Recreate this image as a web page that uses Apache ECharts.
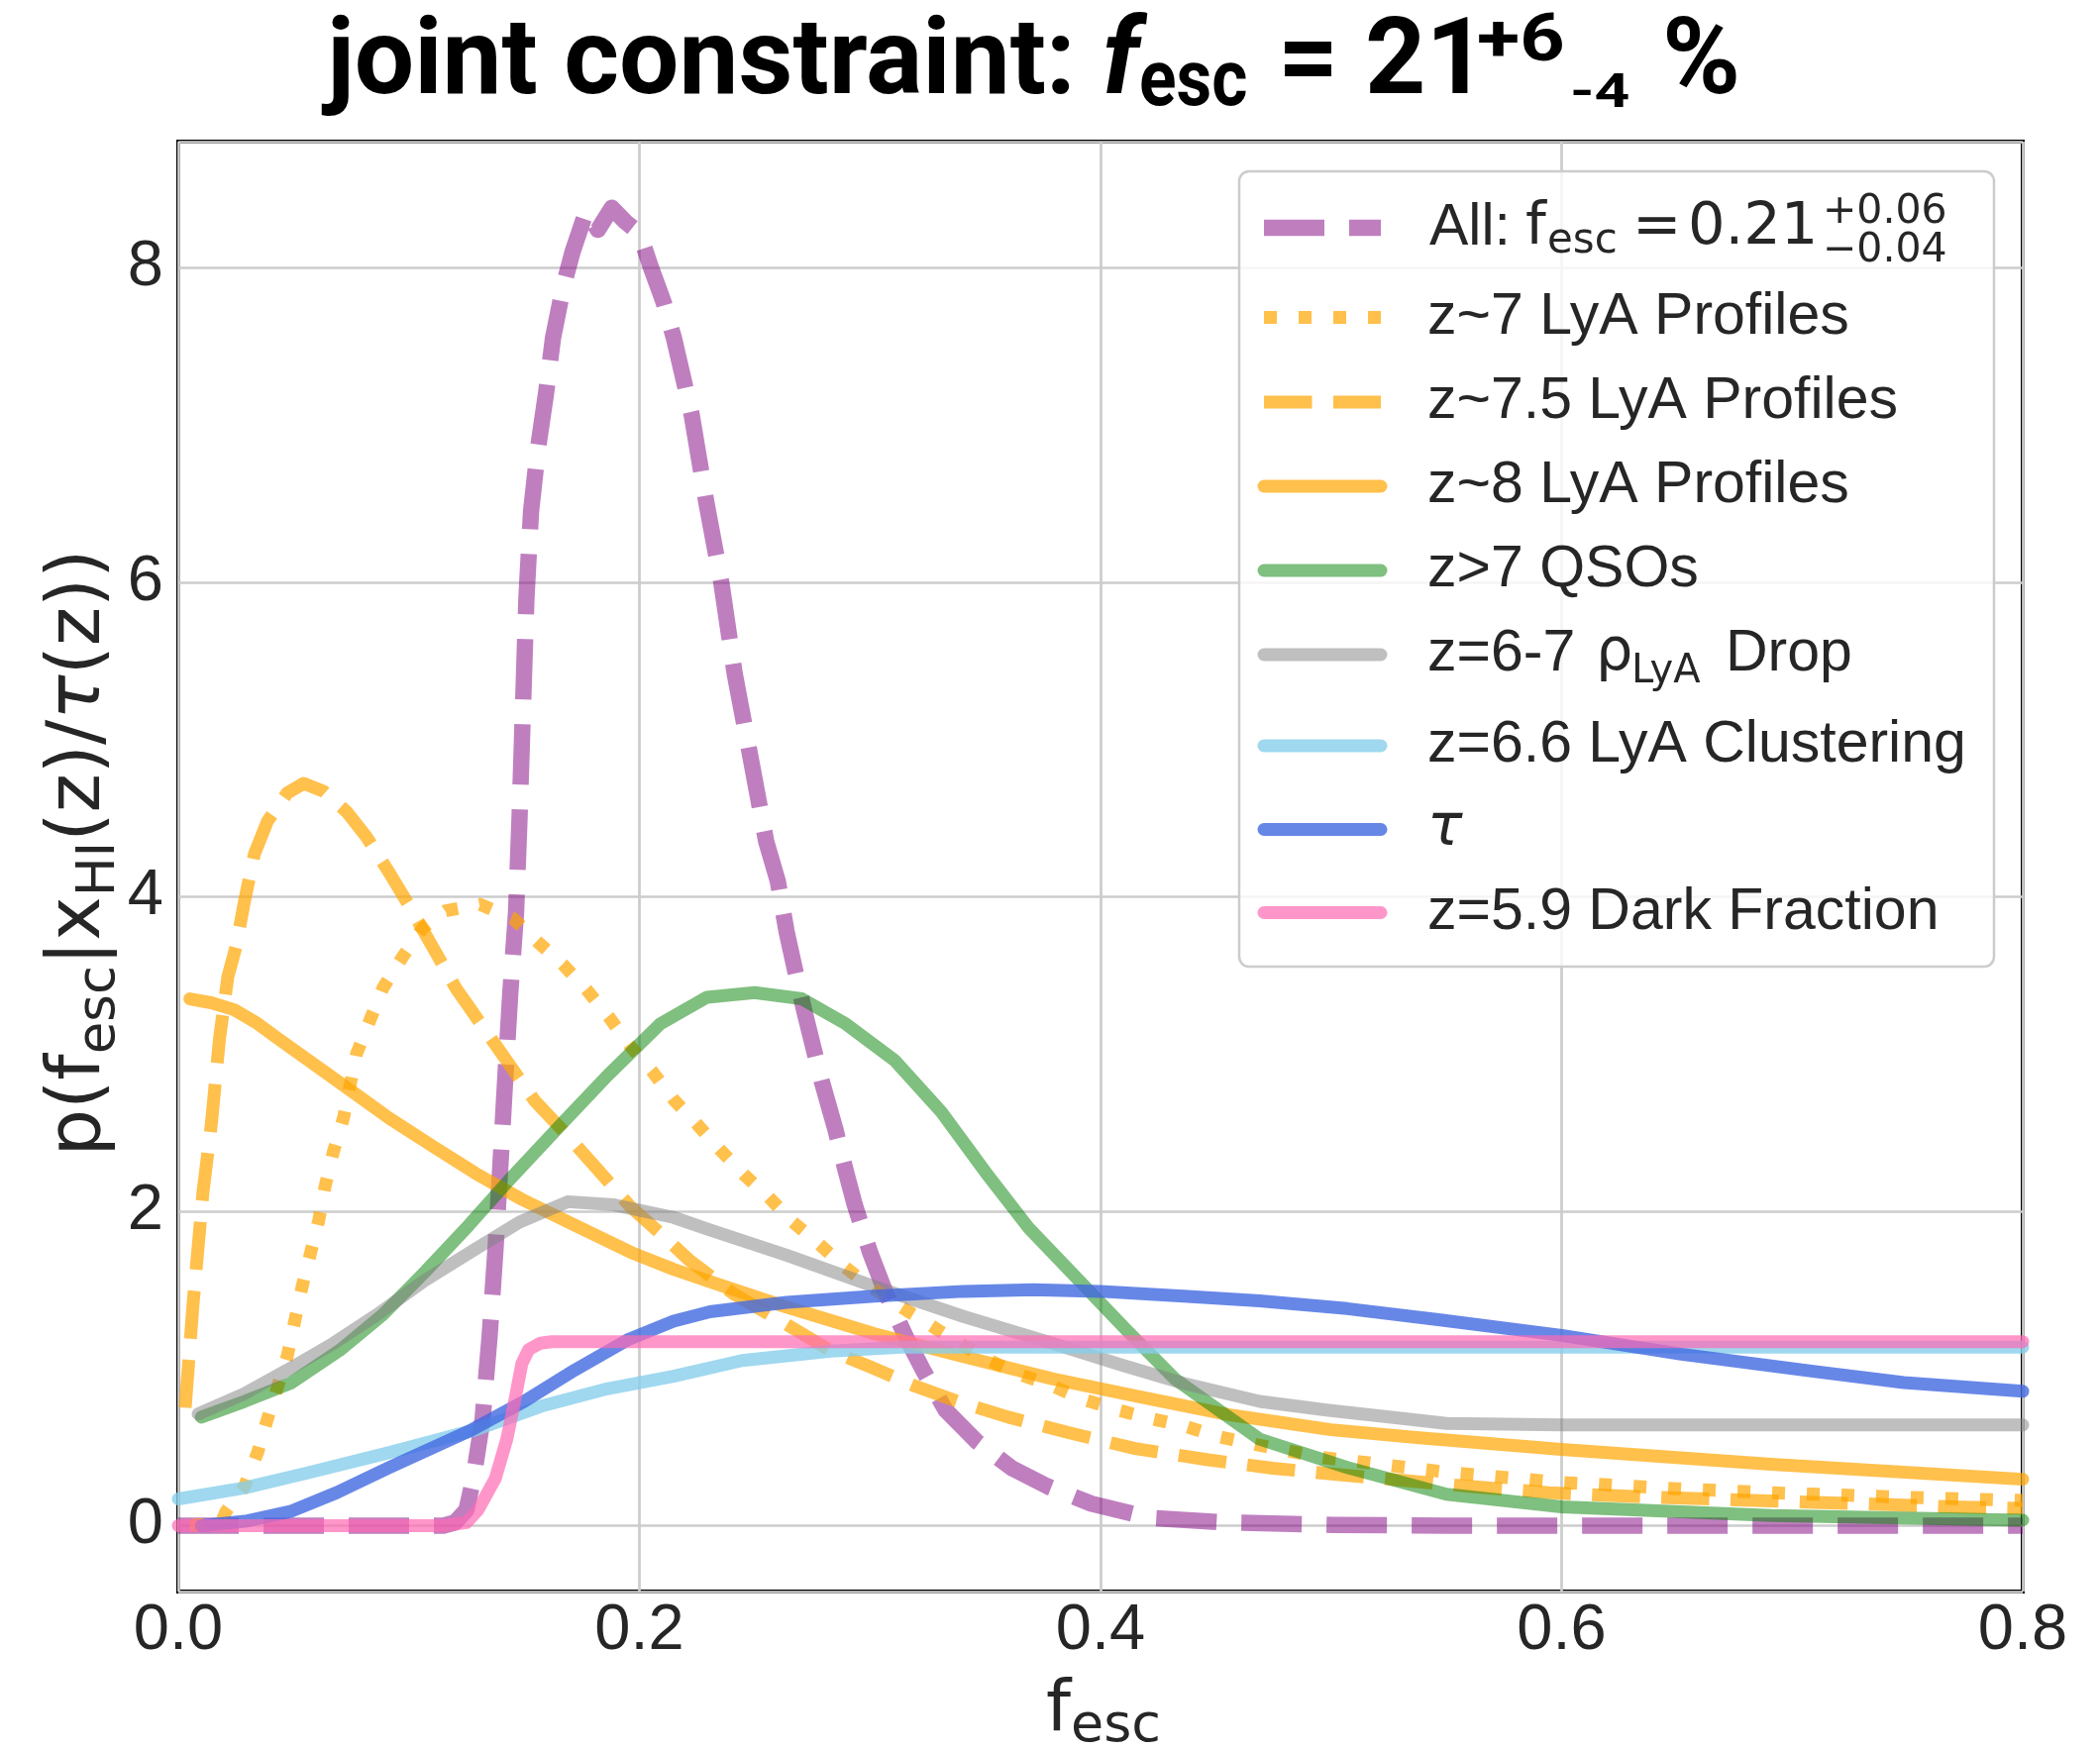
<!DOCTYPE html>
<html>
<head>
<meta charset="utf-8">
<script src="https://cdn.jsdelivr.net/npm/echarts@6/dist/echarts.min.js"></script>
<style>
  html, body { margin: 0; padding: 0; background: #ffffff; }
  #chart { width: 2120px; height: 1767px; }
</style>
</head>
<body>
<div id="chart"></div>
<script>
// ---- posterior densities p(f_esc | x_HI(z) / tau(z)) for each constraint ----
const allX = [0.0, 0.05, 0.10, 0.115, 0.12, 0.125, 0.128, 0.132, 0.135, 0.1375, 0.1397, 0.1418, 0.144, 0.1465, 0.148, 0.1495, 0.151, 0.153, 0.156, 0.1595, 0.1625, 0.167, 0.171, 0.177, 0.182, 0.188, 0.194, 0.200, 0.205, 0.2105, 0.215, 0.2226, 0.229, 0.2355, 0.2413, 0.2484, 0.255, 0.260, 0.2638, 0.2677, 0.2714, 0.2753, 0.279, 0.285, 0.2896, 0.2934, 0.300, 0.3068, 0.3156, 0.323, 0.3328, 0.3463, 0.3616, 0.377, 0.396, 0.421, 0.455, 0.50, 0.55, 0.60, 0.65, 0.70, 0.75, 0.80];
const allY = [0, 0, 0, 0, 0.02, 0.1, 0.3, 0.68, 1.2, 1.74, 2.29, 2.84, 3.39, 3.9, 4.5, 5.2, 5.9, 6.45, 6.85, 7.2, 7.55, 7.88, 8.1, 8.36, 8.24, 8.38, 8.29, 8.22, 8.0, 7.78, 7.55, 7.07, 6.51, 6.0, 5.42, 4.87, 4.35, 4.1, 3.78, 3.52, 3.28, 3.05, 2.83, 2.52, 2.25, 2.04, 1.74, 1.48, 1.2, 0.99, 0.735, 0.535, 0.365, 0.25, 0.14, 0.05, 0.02, 0.005, 0, 0, 0, 0, 0, 0];

const lya7X = [0.005, 0.0186, 0.0206, 0.0287, 0.0344, 0.0387, 0.0473, 0.0537, 0.0573, 0.0609, 0.0637, 0.0673, 0.0716, 0.0773, 0.083, 0.0888, 0.0974, 0.106, 0.116, 0.131, 0.1453, 0.156, 0.1667, 0.177, 0.187, 0.196, 0.2055, 0.2148, 0.2245, 0.235, 0.2455, 0.256, 0.2666, 0.278, 0.2887, 0.300, 0.3136, 0.326, 0.3386, 0.352, 0.3654, 0.379, 0.392, 0.4076, 0.422, 0.436, 0.451, 0.466, 0.480, 0.495, 0.51, 0.55, 0.60, 0.65, 0.69, 0.75, 0.80];
const lya7Y = [0.0, 0.02, 0.088, 0.25, 0.465, 0.68, 1.08, 1.52, 1.73, 1.94, 2.16, 2.38, 2.59, 3.0, 3.21, 3.42, 3.62, 3.80, 3.91, 3.95, 3.86, 3.71, 3.57, 3.41, 3.23, 3.05, 2.89, 2.71, 2.56, 2.39, 2.23, 2.09, 1.93, 1.79, 1.65, 1.52, 1.39, 1.277, 1.16, 1.05, 0.96, 0.89, 0.805, 0.735, 0.68, 0.635, 0.566, 0.52, 0.48, 0.435, 0.41, 0.34, 0.275, 0.235, 0.21, 0.18, 0.16];

const lya75X = [0.003, 0.0064, 0.0107, 0.0143, 0.0179, 0.0215, 0.025, 0.0287, 0.033, 0.0387, 0.0473, 0.0544, 0.063, 0.073, 0.0816, 0.0916, 0.1002, 0.1103, 0.1203, 0.1303, 0.1418, 0.1547, 0.1676, 0.1876, 0.196, 0.209, 0.2215, 0.2408, 0.2638, 0.282, 0.300, 0.320, 0.340, 0.360, 0.3865, 0.415, 0.446, 0.4748, 0.507, 0.5637, 0.5945, 0.6234, 0.683, 0.7426, 0.773, 0.80];
const lya75Y = [0.75, 1.41, 2.12, 2.55, 3.10, 3.49, 3.68, 3.97, 4.27, 4.48, 4.66, 4.72, 4.67, 4.54, 4.38, 4.15, 3.94, 3.68, 3.42, 3.21, 2.97, 2.70, 2.50, 2.17, 2.03, 1.86, 1.69, 1.475, 1.28, 1.12, 1.01, 0.885, 0.78, 0.69, 0.59, 0.49, 0.42, 0.365, 0.32, 0.245, 0.21, 0.19, 0.16, 0.134, 0.118, 0.11];

const lya8X = [0.005, 0.0143, 0.0243, 0.0336, 0.043, 0.0573, 0.0745, 0.0916, 0.1117, 0.129, 0.149, 0.172, 0.1976, 0.2148, 0.235, 0.2638, 0.302, 0.3405, 0.379, 0.417, 0.4554, 0.50, 0.537, 0.60, 0.691, 0.80];
const lya8Y = [3.35, 3.325, 3.28, 3.20, 3.10, 2.95, 2.77, 2.59, 2.40, 2.24, 2.075, 1.91, 1.73, 1.63, 1.53, 1.39, 1.22, 1.075, 0.934, 0.82, 0.706, 0.61, 0.56, 0.485, 0.39, 0.295];

const qsoX = [0.01, 0.0287, 0.0486, 0.070, 0.0888, 0.1074, 0.126, 0.143, 0.166, 0.186, 0.209, 0.2293, 0.250, 0.2705, 0.2896, 0.3106, 0.331, 0.350, 0.369, 0.390, 0.4115, 0.4325, 0.469, 0.507, 0.550, 0.60, 0.691, 0.80];
const qsoY = [0.69, 0.79, 0.905, 1.115, 1.343, 1.62, 1.91, 2.19, 2.55, 2.86, 3.19, 3.36, 3.39, 3.35, 3.19, 2.96, 2.63, 2.25, 1.89, 1.57, 1.24, 0.93, 0.55, 0.37, 0.20, 0.12, 0.065, 0.035];

const dropX = [0.0086, 0.0287, 0.0473, 0.0673, 0.086, 0.106, 0.129, 0.148, 0.169, 0.189, 0.2148, 0.2306, 0.2638, 0.302, 0.3405, 0.379, 0.4095, 0.436, 0.469, 0.498, 0.529, 0.55, 0.60, 0.80];
const dropY = [0.71, 0.84, 0.99, 1.16, 1.34, 1.55, 1.76, 1.93, 2.06, 2.04, 1.96, 1.88, 1.72, 1.52, 1.33, 1.16, 1.02, 0.905, 0.79, 0.735, 0.685, 0.65, 0.64, 0.64];

const clusX = [0.0, 0.0287, 0.0573, 0.0916, 0.129, 0.1575, 0.186, 0.2148, 0.2445, 0.283, 0.3136, 0.35, 0.80];
const clusY = [0.17, 0.24, 0.34, 0.465, 0.61, 0.76, 0.87, 0.95, 1.05, 1.11, 1.135, 1.135, 1.135];

const tauX = [0.01, 0.03, 0.0486, 0.0687, 0.0916, 0.126, 0.150, 0.172, 0.1947, 0.2148, 0.2306, 0.2638, 0.302, 0.3405, 0.371, 0.400, 0.436, 0.469, 0.507, 0.5465, 0.60, 0.652, 0.71, 0.7484, 0.80];
const tauY = [0.0, 0.03, 0.09, 0.21, 0.37, 0.60, 0.79, 0.99, 1.18, 1.30, 1.36, 1.42, 1.46, 1.49, 1.50, 1.49, 1.46, 1.43, 1.38, 1.31, 1.21, 1.09, 0.98, 0.91, 0.855];

const darkX = [0.0, 0.115, 0.125, 0.13, 0.1375, 0.1425, 0.146, 0.149, 0.152, 0.157, 0.162, 0.80];
const darkY = [0, 0, 0.02, 0.1, 0.3, 0.55, 0.8, 1.03, 1.12, 1.16, 1.17, 1.17];

// axis ticks
const xTicks = [0, 0.2, 0.4, 0.6, 0.8];
const yTicks = [0, 2, 4, 6, 8];

// legend labels (plain ones; math-styled rows are composed below)
const labels = ['All', 'z~7 LyA Profiles', 'z~7.5 LyA Profiles', 'z~8 LyA Profiles', 'z>7 QSOs',
                'z=6-7 Drop', 'z=6.6 LyA Clustering', 'tau', 'z=5.9 Dark Fraction'];

const zip = (xs, ys) => xs.map((x, i) => [x, ys[i]]);

const FONT_TXT = '"Liberation Sans", Arial, sans-serif';
const FONT_MATH = '"DejaVu Sans", sans-serif';
const INK = '#262626';

const lines = [
  { x: allX,  y: allY,  color: '#800080', alpha: 0.5, width: 16.5, dash: [61, 25],     cap: 'butt' },
  { x: lya7X, y: lya7Y, color: '#FFA500', alpha: 0.7, width: 13,   dash: [13, 22],     cap: 'butt' },
  { x: lya75X,y: lya75Y,color: '#FFA500', alpha: 0.7, width: 13,   dash: [48.5, 21.4], cap: 'butt' },
  { x: lya8X, y: lya8Y, color: '#FFA500', alpha: 0.7, width: 13,   dash: null,         cap: 'round' },
  { x: qsoX,  y: qsoY,  color: '#008000', alpha: 0.5, width: 13,   dash: null,         cap: 'round' },
  { x: dropX, y: dropY, color: '#808080', alpha: 0.5, width: 13,   dash: null,         cap: 'round' },
  { x: clusX, y: clusY, color: '#87CEEB', alpha: 0.8, width: 13,   dash: null,         cap: 'round' },
  { x: tauX,  y: tauY,  color: '#4169E1', alpha: 0.8, width: 13,   dash: null,         cap: 'round' },
  { x: darkX, y: darkY, color: '#FF69B4', alpha: 0.7, width: 13,   dash: null,         cap: 'round' }
];

const series = lines.map((s, i) => ({
  type: 'line',
  name: labels[i],
  data: zip(s.x, s.y),
  symbol: 'none',
  showSymbol: false,
  smooth: false,
  clip: true,
  silent: true,
  z: 2 + i,
  lineStyle: {
    color: s.color,
    opacity: s.alpha,
    width: s.width,
    type: s.dash || 'solid',
    cap: s.cap,
    join: 'round'
  },
  emphasis: { disabled: true }
}));

// ---- text helpers for the graphic layer ----
function txt(x, y, text, size, family, extra, scaleX) {
  return {
    type: 'text', x: x, y: y, z: 102, silent: true, scaleX: scaleX || 1,
    style: Object.assign({
      text: text, fontSize: size, fontFamily: family, fill: INK,
      align: 'left', verticalAlign: 'middle'
    }, extra || {})
  };
}

// title pieces
const TITLE_FONT = 'Roboto, "Liberation Sans", sans-serif';
const titleBold = { fontWeight: 'bold', fill: '#000' };
const titleEls = [
  txt(330, 67.4, 'joint constraint:', 107, TITLE_FONT, titleBold),
  txt(1113, 67.4, 'f', 107, TITLE_FONT, Object.assign({ fontStyle: 'italic' }, titleBold)),
  txt(1150, 86, 'esc', 79, TITLE_FONT, titleBold, 0.88),
  txt(1290, 67.4, '=', 107, TITLE_FONT, titleBold),
  txt(1378, 67.4, '21', 107, TITLE_FONT, titleBold),
  txt(1491, 44.4, '+6', 66, TITLE_FONT, titleBold, 1.2),
  txt(1585, 95.6, '-4', 48, TITLE_FONT, titleBold, 1.3),
  txt(1678, 67.4, '%', 107, TITLE_FONT, titleBold)
];

// legend box, handles and labels
const ROW_Y = [230, 320.5, 406, 491, 576, 661, 753, 837.5, 921.5];
const legendEls = [{
  type: 'rect', z: 100, silent: true,
  shape: { x: 1251, y: 173, width: 762, height: 803, r: 10 },
  style: { fill: 'rgba(255,255,255,0.8)', stroke: '#cccccc', lineWidth: 2.5 }
}];
lines.forEach((s, i) => {
  legendEls.push({
    type: 'line', z: 101, silent: true,
    shape: { x1: 1276, y1: ROW_Y[i], x2: 1394, y2: ROW_Y[i] },
    style: {
      stroke: s.color, opacity: s.alpha, lineWidth: s.width,
      lineDash: s.dash || null, lineCap: s.cap
    }
  });
});
// row 1: All: f_esc = 0.21 (+0.06 / -0.04)
legendEls.push(
  txt(1443, 231, 'All:', 59, FONT_TXT),
  txt(1540, 231, 'f', 59, FONT_MATH),
  txt(1562, 244.5, 'esc', 42, FONT_MATH),
  txt(1648, 231, '=', 59, FONT_MATH),
  txt(1704, 231, '0.21', 59, FONT_MATH),
  txt(1840, 214, '+0.06', 41, FONT_MATH),
  txt(1840, 253, '\u22120.04', 41, FONT_MATH)
);
// plain rows
[1, 2, 3, 4, 6, 8].forEach(i => legendEls.push(txt(1441, ROW_Y[i], labels[i], 59, FONT_TXT)));
// row 6: z=6-7 rho_LyA Drop
legendEls.push(
  txt(1441, ROW_Y[5], 'z=6-7', 59, FONT_TXT),
  txt(1611, ROW_Y[5], '\u03C1', 59, FONT_MATH),
  txt(1647, 678.5, 'LyA', 40, FONT_MATH),
  txt(1742, ROW_Y[5], 'Drop', 59, FONT_TXT)
);
// row 8: tau
legendEls.push(txt(1441, ROW_Y[7], '\u03C4', 59, FONT_MATH, { fontStyle: 'italic' }));

// axis titles
const axisTitleEls = [
  txt(1056, 1728.4, 'f', 71, FONT_MATH),
  txt(1081, 1744, 'esc', 54, FONT_MATH),
  {
    type: 'text', x: 81, y: 861, rotation: Math.PI / 2, z: 102, silent: true,
    style: {
      text: '{m|p(f}{s|esc}{m||x}{s|HI}{m|(z)/}{t|\u03C4}{m|(z))}',
      align: 'center', verticalAlign: 'middle', fill: INK,
      rich: {
        m: { fontSize: 75, fontFamily: FONT_MATH, fill: INK },
        t: { fontSize: 75, fontFamily: FONT_MATH, fontStyle: 'italic', fill: INK },
        s: { fontSize: 53, fontFamily: FONT_MATH, fill: INK, padding: [41, 0, 0, 0] }
      }
    }
  }
];

const chart = echarts.init(document.getElementById('chart'), null, { renderer: 'canvas', width: 2120, height: 1767 });
chart.setOption({
  animation: false,
  backgroundColor: '#ffffff',
  grid: {
    left: 180, top: 143, width: 1862, height: 1464,
    show: true, borderColor: '#000000', borderWidth: 4, backgroundColor: 'transparent',
    containLabel: false
  },
  xAxis: {
    type: 'value', min: xTicks[0], max: xTicks[xTicks.length - 1], interval: 0.2,
    axisLine: { show: false }, axisTick: { show: false },
    axisLabel: {
      fontSize: 65, fontFamily: FONT_TXT, color: INK, margin: 8,
      formatter: v => v.toFixed(1)
    },
    splitLine: { show: true, lineStyle: { color: '#cccccc', width: 2.7 } }
  },
  yAxis: {
    type: 'value', min: -0.419, max: 8.801, minInterval: 2, maxInterval: 2,
    axisLine: { show: false }, axisTick: { show: false },
    axisLabel: {
      fontSize: 65, fontFamily: FONT_TXT, color: INK, margin: 15,
      showMinLabel: false, showMaxLabel: false,
      formatter: v => (yTicks.indexOf(Math.round(v * 1000) / 1000) >= 0 ? String(Math.round(v)) : '')
    },
    splitLine: { show: true, lineStyle: { color: '#cccccc', width: 2.7 } }
  },
  series: series,
  graphic: { elements: titleEls.concat(legendEls, axisTitleEls) }
});
</script>
</body>
</html>
